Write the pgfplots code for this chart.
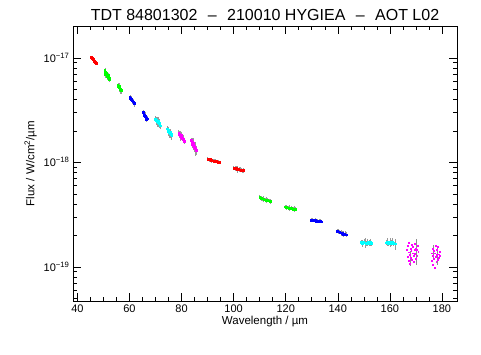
\documentclass[border=0pt]{standalone}
\usepackage{fontspec}
\setmainfont{Liberation Sans}
\usepackage{pgfplots}
\pgfplotsset{compat=1.18}
\definecolor{idlred}{RGB}{255,0,0}
\definecolor{idlgreen}{RGB}{0,255,0}
\definecolor{idlblue}{RGB}{0,0,255}
\definecolor{idlcyan}{RGB}{0,255,255}
\definecolor{idlmag}{RGB}{255,0,255}

\pgfplotsset{
  seg/.style={only marks, mark=square*, mark size=0.85pt, color=#1,
    error bars/.cd, y dir=both, y explicit, error mark=none,
    error bar style={draw=black!40, line width=0.5pt}},
  sparse/.style={only marks, mark=square*, mark size=0.45pt, color=#1,
    error bars/.cd, y dir=both, y explicit, error mark=none,
    error bar style={draw=black!45, line width=0.5pt}},
}

\begin{document}
\begin{tikzpicture}
\begin{axis}[
  at={(0,0)}, anchor=south west,
  scale only axis, width=384pt, height=275pt,
  xmin=38.3, xmax=185.8,
  ymode=log, ymin=4.7e-20, ymax=2.02e-17,
  xtick={40,60,...,180}, minor x tick num=3,
  ytick={1e-19,1e-18,1e-17},
  yticklabels={10\textsuperscript{−19},10\textsuperscript{−18},10\textsuperscript{−17}},
  minor ytick={5e-20,6e-20,7e-20,8e-20,9e-20,2e-19,3e-19,4e-19,5e-19,6e-19,7e-19,8e-19,9e-19,2e-18,3e-18,4e-18,5e-18,6e-18,7e-18,8e-18,9e-18,2e-17},
  tick align=inside, major tick length=8pt, minor tick length=4pt,
  axis line style={line width=0.6pt}, tick style={line width=0.5pt, black},
  /pgf/number format/assume math mode=true,
  ticklabel style={font=\fontsize{11}{13}\selectfont},
  xlabel={Wavelength / µm}, ylabel={Flux / W/cm\textsuperscript{2}/µm},
  label style={font=\fontsize{11.5}{13}\selectfont},
  xlabel style={yshift=3pt},
  title={TDT 84801302\hspace{0.65em}–\hspace{0.65em}210010 HYGIEA\hspace{0.65em}–\hspace{0.65em}AOT L02},
  title style={font=\fontsize{16}{18}\selectfont, at={(0.5,1)}, anchor=base, yshift=-0.5pt},
]
% LW1
\addplot[seg=idlred] table[y error=e, row sep=\\] {x y e\\
45.3 10.15e-18 0.3e-18\\ 45.5 9.95e-18 0.5e-18\\ 45.7 10.0e-18 0.3e-18\\ 45.9 9.7e-18 0.3e-18\\
46.1 9.65e-18 0.6e-18\\ 46.3 9.5e-18 0.3e-18\\ 46.5 9.35e-18 0.4e-18\\ 46.7 9.2e-18 0.3e-18\\
46.9 9.05e-18 0.5e-18\\ 47.1 8.95e-18 0.3e-18\\};
\addplot[seg=idlgreen] table[y error=e, row sep=\\] {x y e\\
50.5 7.6e-18 0.4e-18\\ 50.7 7.3e-18 0.3e-18\\ 50.8 7.0e-18 0.6e-18\\ 51.0 7.2e-18 0.3e-18\\
51.2 6.9e-18 0.4e-18\\ 51.3 7.1e-18 0.3e-18\\ 51.5 6.7e-18 0.6e-18\\ 51.7 6.8e-18 0.3e-18\\
51.9 6.5e-18 0.4e-18\\ 52.1 6.4e-18 0.3e-18\\ 52.3 6.2e-18 0.3e-18\\};
\addplot[seg=idlgreen] table[y error=e, row sep=\\] {x y e\\
55.5 5.45e-18 0.35e-18\\ 55.7 5.3e-18 0.3e-18\\ 55.9 5.2e-18 0.5e-18\\ 56.0 5.35e-18 0.3e-18\\
56.2 5.1e-18 0.3e-18\\ 56.4 5.0e-18 0.45e-18\\ 56.6 5.05e-18 0.3e-18\\ 56.8 4.9e-18 0.3e-18\\
57.0 4.85e-18 0.3e-18\\};
\addplot[seg=idlblue] table[y error=e, row sep=\\] {x y e\\
60.1 4.2e-18 0.2e-18\\ 60.4 4.1e-18 0.25e-18\\ 60.6 4.0e-18 0.2e-18\\ 60.8 4.05e-18 0.3e-18\\
61.0 3.9e-18 0.2e-18\\ 61.2 3.85e-18 0.25e-18\\ 61.5 3.8e-18 0.2e-18\\ 61.7 3.7e-18 0.2e-18\\
61.9 3.65e-18 0.25e-18\\};
\addplot[seg=idlblue] table[y error=e, row sep=\\] {x y e\\
65.3 3.0e-18 0.15e-18\\ 65.5 2.9e-18 0.2e-18\\ 65.7 2.85e-18 0.15e-18\\ 65.9 2.8e-18 0.25e-18\\
66.1 2.75e-18 0.15e-18\\ 66.3 2.65e-18 0.2e-18\\ 66.5 2.6e-18 0.15e-18\\ 66.7 2.62e-18 0.15e-18\\};
\addplot[seg=idlcyan] table[y error=e, row sep=\\] {x y e\\
70.0 2.6e-18 0.15e-18\\ 70.2 2.5e-18 0.2e-18\\ 70.4 2.55e-18 0.15e-18\\ 70.6 2.45e-18 0.25e-18\\
70.8 2.4e-18 0.15e-18\\ 71.0 2.5e-18 0.2e-18\\ 71.2 2.35e-18 0.15e-18\\ 71.4 2.4e-18 0.2e-18\\
71.6 2.3e-18 0.15e-18\\ 71.8 2.25e-18 0.15e-18\\};
\addplot[seg=idlcyan] table[y error=e, row sep=\\] {x y e\\
74.6 2.1e-18 0.12e-18\\ 74.8 2.0e-18 0.2e-18\\ 75.0 2.05e-18 0.12e-18\\ 75.2 1.95e-18 0.15e-18\\
75.4 1.9e-18 0.2e-18\\ 75.6 1.95e-18 0.12e-18\\ 75.8 1.85e-18 0.15e-18\\ 76.0 1.88e-18 0.12e-18\\
76.2 1.8e-18 0.15e-18\\};
\addplot[seg=idlmag] table[y error=e, row sep=\\] {x y e\\
78.9 1.92e-18 0.1e-18\\ 79.1 1.85e-18 0.15e-18\\ 79.3 1.88e-18 0.1e-18\\ 79.5 1.8e-18 0.2e-18\\
79.7 1.75e-18 0.1e-18\\ 79.9 1.82e-18 0.15e-18\\ 80.1 1.7e-18 0.1e-18\\ 80.3 1.72e-18 0.12e-18\\
80.5 1.65e-18 0.1e-18\\ 80.7 1.68e-18 0.15e-18\\ 80.9 1.6e-18 0.1e-18\\};
\addplot[seg=idlmag] table[y error=e, row sep=\\] {x y e\\
83.8 1.62e-18 0.1e-18\\ 84.0 1.55e-18 0.15e-18\\ 84.2 1.5e-18 0.12e-18\\ 84.4 1.52e-18 0.2e-18\\
84.6 1.45e-18 0.1e-18\\ 84.8 1.4e-18 0.15e-18\\ 85.0 1.42e-18 0.12e-18\\ 85.2 1.35e-18 0.2e-18\\
85.4 1.38e-18 0.1e-18\\ 85.6 1.3e-18 0.12e-18\\};
% LW detectors
\addplot[seg=idlred] table[y error=e, row sep=\\] {x y e\\
90.0 1.08e-18 0.04e-18\\ 90.5 1.06e-18 0.05e-18\\ 91.0 1.07e-18 0.04e-18\\ 91.5 1.05e-18 0.06e-18\\
92.0 1.04e-18 0.04e-18\\ 92.5 1.03e-18 0.05e-18\\ 93.0 1.04e-18 0.04e-18\\ 93.5 1.02e-18 0.04e-18\\
94.0 1.01e-18 0.05e-18\\ 94.5 1.0e-18 0.04e-18\\};
\addplot[seg=idlred] table[y error=e, row sep=\\] {x y e\\
100.0 8.85e-19 0.4e-19\\ 100.5 8.7e-19 0.5e-19\\ 101.0 8.75e-19 0.4e-19\\ 101.5 8.6e-19 0.7e-19\\
102.0 8.55e-19 0.4e-19\\ 102.5 8.5e-19 0.5e-19\\ 103.0 8.45e-19 0.4e-19\\ 103.5 8.3e-19 0.4e-19\\
103.8 8.35e-19 0.5e-19\\};
\addplot[seg=idlgreen] table[y error=e, row sep=\\] {x y e\\
110.0 4.65e-19 0.2e-19\\ 110.5 4.55e-19 0.25e-19\\ 111.0 4.5e-19 0.2e-19\\ 111.5 4.45e-19 0.3e-19\\
112.0 4.4e-19 0.2e-19\\ 112.5 4.35e-19 0.3e-19\\ 113.0 4.38e-19 0.2e-19\\ 113.5 4.3e-19 0.2e-19\\
114.0 4.25e-19 0.25e-19\\};
\addplot[seg=idlgreen] table[y error=e, row sep=\\] {x y e\\
119.8 3.75e-19 0.15e-19\\ 120.3 3.7e-19 0.2e-19\\ 120.8 3.68e-19 0.15e-19\\ 121.3 3.65e-19 0.25e-19\\
121.8 3.62e-19 0.15e-19\\ 122.3 3.66e-19 0.2e-19\\ 122.8 3.58e-19 0.15e-19\\ 123.3 3.6e-19 0.25e-19\\
123.8 3.55e-19 0.15e-19\\};
\addplot[seg=idlblue] table[y error=e, row sep=\\] {x y e\\
129.8 2.8e-19 0.1e-19\\ 130.3 2.78e-19 0.12e-19\\ 130.8 2.76e-19 0.1e-19\\ 131.3 2.78e-19 0.15e-19\\
131.8 2.75e-19 0.1e-19\\ 132.3 2.74e-19 0.12e-19\\ 132.8 2.75e-19 0.1e-19\\ 133.3 2.72e-19 0.12e-19\\
133.8 2.7e-19 0.1e-19\\};
\addplot[seg=idlblue] table[y error=e, row sep=\\] {x y e\\
139.7 2.2e-19 0.1e-19\\ 140.2 2.17e-19 0.12e-19\\ 140.7 2.14e-19 0.1e-19\\ 141.2 2.12e-19 0.14e-19\\
141.7 2.1e-19 0.1e-19\\ 142.2 2.06e-19 0.12e-19\\ 142.7 2.08e-19 0.1e-19\\ 143.2 2.03e-19 0.12e-19\\};
\addplot[seg=idlcyan] table[y error=e, row sep=\\] {x y e\\
149.0 1.72e-19 0.1e-19\\ 149.5 1.68e-19 0.14e-19\\ 150.0 1.74e-19 0.1e-19\\ 150.5 1.7e-19 0.2e-19\\
151.0 1.67e-19 0.1e-19\\ 151.5 1.72e-19 0.14e-19\\ 152.0 1.69e-19 0.1e-19\\ 152.5 1.71e-19 0.14e-19\\
153.0 1.68e-19 0.1e-19\\};
\addplot[seg=idlcyan] table[y error=e, row sep=\\] {x y e\\
158.5 1.7e-19 0.1e-19\\ 159.0 1.73e-19 0.14e-19\\ 159.5 1.67e-19 0.1e-19\\ 160.0 1.71e-19 0.16e-19\\
160.5 1.69e-19 0.1e-19\\ 161.0 1.74e-19 0.14e-19\\ 161.5 1.68e-19 0.1e-19\\ 162.0 1.66e-19 0.2e-19\\};
\addplot[sparse=idlmag] table[y error=e, row sep=\\] {x y e\\
166.6 1.45e-19 0\\ 166.8 1.25e-19 0\\ 167.0 1.6e-19 0\\ 167.1 1.15e-19 0\\
167.3 1.38e-19 0\\ 167.4 1.7e-19 0\\ 167.6 1.3e-19 0\\ 167.7 1.08e-19 0\\
167.9 1.5e-19 0\\ 168.0 1.22e-19 0.2e-19\\ 168.2 1.42e-19 0\\ 168.4 1.62e-19 0\\
168.5 1.18e-19 0\\ 168.7 1.35e-19 0\\ 168.8 1.55e-19 0\\ 169.0 1.28e-19 0\\
169.2 1.12e-19 0\\ 169.4 1.45e-19 0\\ 169.5 1.65e-19 0\\ 169.7 1.33e-19 0\\
169.9 1.2e-19 0\\ 170.1 1.5e-19 0\\ 170.3 1.45e-19 0.4e-19\\ 170.5 1.27e-19 0\\
170.7 1.58e-19 0\\ 170.9 1.4e-19 0\\};
\addplot[sparse=idlmag] table[y error=e, row sep=\\] {x y e\\
176.0 1.35e-19 0\\ 176.2 1.15e-19 0\\ 176.3 1.5e-19 0\\ 176.5 1.05e-19 0\\
176.6 1.28e-19 0\\ 176.8 1.42e-19 0.2e-19\\ 177.0 1.2e-19 0\\ 177.1 0.98e-19 0\\
177.3 1.35e-19 0\\ 177.5 1.6e-19 0\\ 177.6 1.25e-19 0\\ 177.8 1.12e-19 0\\
178.0 1.45e-19 0\\ 178.1 1.3e-19 0.25e-19\\ 178.3 1.18e-19 0\\ 178.5 1.55e-19 0\\
178.7 1.32e-19 0\\ 178.9 1.22e-19 0\\ 179.1 1.4e-19 0\\ 179.3 1.28e-19 0\\};
\end{axis}
\path[use as bounding box] (-73pt,-53pt) rectangle (408pt,301pt);
\end{tikzpicture}
\end{document}
